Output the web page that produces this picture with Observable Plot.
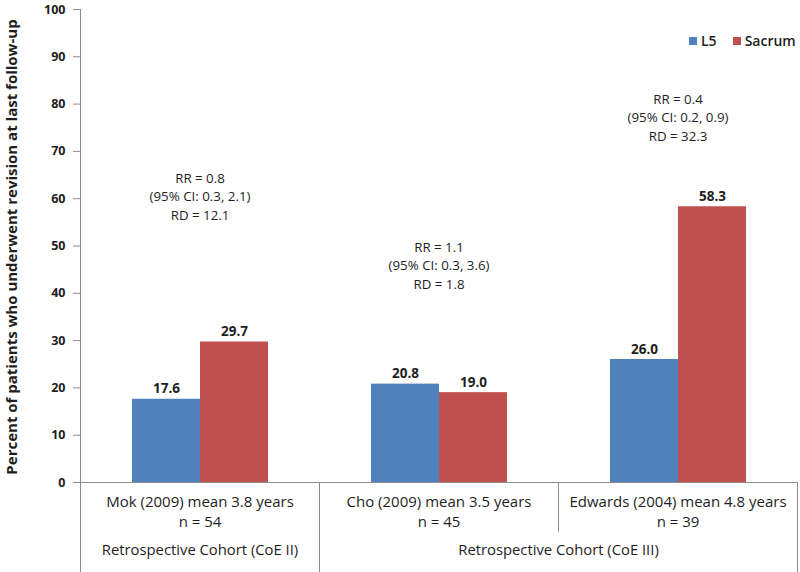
<!DOCTYPE html>
<html>
<head>
<meta charset="utf-8">
<script src="https://cdn.jsdelivr.net/npm/d3@7"></script>
<script src="https://cdn.jsdelivr.net/npm/@observablehq/plot@0.6"></script>
<style>
  body { margin: 0; background: #fff; font-family: "Open Sans", Lato, sans-serif; }
  #wrap { position: relative; width: 800px; height: 572px; }
  .legend { position: absolute; top: 31px; left: 689px; display: flex; align-items: center;
            font: 600 14px "Open Sans", sans-serif; color: #222; }
  .legend .sw { display: inline-block; width: 8px; height: 8px; margin-right: 4px; }
  .legend .item { display: flex; align-items: center; margin-right: 16px; }
  .legend .item:last-child { margin-right: 0; }
</style>
</head>
<body>
<div id="wrap"></div>
<script>
// ---- data ----
const studies = ["Mok (2009) mean 3.8 years", "Cho (2009) mean 3.5 years", "Edwards (2004) mean 4.8 years"];
const sampleSizes = [54, 45, 39];
const series = ["L5", "Sacrum"];
const seriesColors = ["#4F81BD", "#C0504D"];
const l5Values = [17.6, 20.8, 26.0];
const sacrumValues = [29.7, 19.0, 58.3];
const rrValues = ["0.8", "1.1", "0.4"];
const ciValues = ["0.3, 2.1", "0.3, 3.6", "0.2, 0.9"];
const rdValues = ["12.1", "1.8", "32.3"];
const annotationY = [60.7, 46.1, 77.4];
const cohortLabels = ["Retrospective Cohort (CoE II)", "Retrospective Cohort (CoE III)"];
const cohortStudy = [0, 1]; // CoE III label centred on the Cho | Edwards boundary
const yTicks = [0, 10, 20, 30, 40, 50, 60, 70, 80, 90, 100];
const yLabel = "Percent of patients who underwent revision at last follow-up";

// ---- derived tables ----
const bars = studies.flatMap((s, i) => [
  {study: s, series: series[0], value: l5Values[i]},
  {study: s, series: series[1], value: sacrumValues[i]}
]);
const annotations = studies.map((s, i) => ({
  study: s, y: annotationY[i],
  text: `RR = ${rrValues[i]}\n(95% CI: ${ciValues[i]})\nRD = ${rdValues[i]}`
}));
const catLabels = studies.map((s, i) => ({study: s, text: `${s}\nn = ${sampleSizes[i]}`}));
const leftDividers = [
  {study: studies[0], top: 100, bottom: -19.6},
  {study: studies[1], top: 0, bottom: -19.6},
  {study: studies[2], top: 0, bottom: -10.5}
];
const rightDividers = [{study: studies[2], top: 0, bottom: -19.6}];

const W = 800, H = 572, mL = 80, mR = 3, mT = 9, mB = 90;
const fw = (W - mL - mR) / studies.length;
const axisColor = "#8c8c8c";
const textColor = "#1e1e1e";
const font = "'Open Sans', sans-serif";

const chart = Plot.plot({
  width: W, height: H,
  marginLeft: mL, marginRight: mR, marginTop: mT, marginBottom: mB,
  style: {fontFamily: font, fontSize: "13px", color: textColor, background: "#fff", overflow: "visible"},
  fx: {domain: studies, padding: 0, axis: null},
  x: {domain: series, paddingInner: 0, paddingOuter: 0.75, axis: null},
  y: {domain: [0, 100], axis: null},
  color: {domain: series, range: seriesColors},
  marks: [
    Plot.axisY({ticks: yTicks, tickSize: 7, tickPadding: 8, fontWeight: "bold", fontSize: 12.5,
                stroke: axisColor, fill: textColor, label: null}),
    Plot.text([studies[0]], {fx: d => d, frameAnchor: "left", rotate: -90, dx: -68, dy: 1, textAnchor: "middle",
               text: () => yLabel, fontWeight: "bold", fontSize: 15, fill: textColor}),
    Plot.barY(bars, {fx: "study", x: "series", y: "value", fill: "series"}),
    Plot.ruleY([0], {stroke: axisColor}),
    Plot.ruleX(leftDividers, {fx: "study", x: null, y1: "top", y2: "bottom", dx: -fw / 2, stroke: axisColor}),
    Plot.ruleX(rightDividers, {fx: "study", x: null, y1: "top", y2: "bottom", dx: fw / 2, stroke: axisColor}),
    Plot.text(bars, {fx: "study", x: "series", y: "value", text: d => d.value.toFixed(1),
                     lineAnchor: "bottom", dy: -6, fontWeight: "bold", fontSize: 13.5, fill: textColor}),
    Plot.text(annotations, {fx: "study", y: "y", text: "text", fontSize: 13.3, fontWeight: 500,
                            lineHeight: 1.4, fill: textColor}),
    Plot.text(catLabels, {fx: "study", frameAnchor: "bottom", lineAnchor: "top", dy: 10,
                          text: "text", fontSize: 15, lineHeight: 1.35, fill: textColor}),
    Plot.text([0], {fx: () => studies[cohortStudy[0]], frameAnchor: "bottom", dy: 72,
                    text: () => cohortLabels[0], fontSize: 14.8, fill: textColor}),
    Plot.text([1], {fx: () => studies[cohortStudy[1]], frameAnchor: "bottom-right", textAnchor: "middle", dy: 72,
                    text: () => cohortLabels[1], fontSize: 14.8, fill: textColor})
  ]
});

const wrap = document.getElementById("wrap");
wrap.appendChild(chart);
const legend = document.createElement("div");
legend.className = "legend";
series.forEach((s, i) => {
  const item = document.createElement("span");
  item.className = "item";
  const sw = document.createElement("span");
  sw.className = "sw";
  sw.style.background = seriesColors[i];
  item.appendChild(sw);
  item.appendChild(document.createTextNode(s));
  legend.appendChild(item);
});
wrap.appendChild(legend);
</script>
</body>
</html>
